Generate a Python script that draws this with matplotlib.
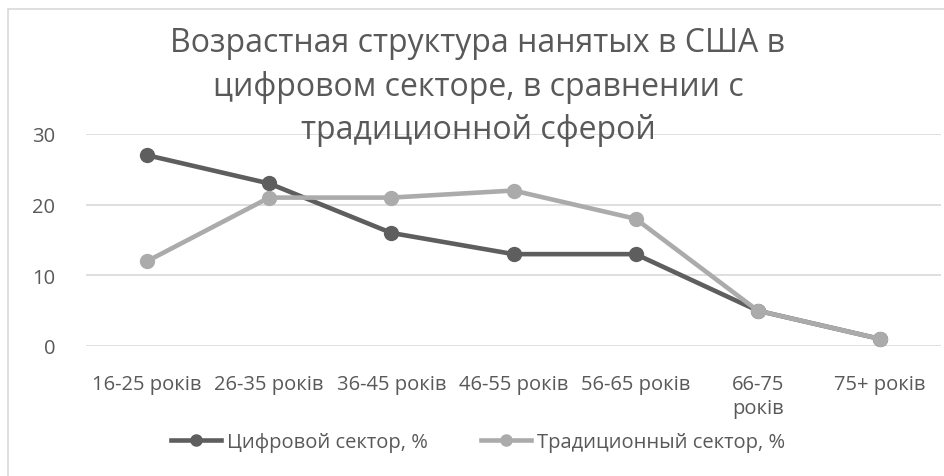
import matplotlib
matplotlib.use("Agg")
import matplotlib.pyplot as plt
from matplotlib.patches import Rectangle

categories = ["16-25 років", "26-35 років", "36-45 років", "46-55 років",
              "56-65 років", "66-75\nроків", "75+ років"]
digital = [27, 23, 16, 13, 13, 5, 1]
traditional = [12, 21, 21, 22, 18, 5, 1]
yticks = [0, 10, 20, 30]

title = "Возрастная структура нанятых в США в\nцифровом секторе, в сравнении с\nтрадиционной сферой"

plt.rcParams['font.family'] = ['Open Sans', 'DejaVu Sans']
text_color = '#595959'

fig = plt.figure(figsize=(9.45, 4.77), dpi=100)
ax = fig.add_axes([86 / 945, 1 - 347 / 477, (941 - 86) / 945, (347 - 135) / 477])

# chart frame (cut off at right and bottom in the reference)
fig.patches.append(Rectangle((8 / 945, -0.1), 1.2, 1 - 10 / 477 + 0.1,
                             transform=fig.transFigure, fill=False,
                             edgecolor='#d9d9d9', linewidth=1.2))

x = list(range(len(categories)))
ax.plot(x, digital, color='#5e5e5e', linewidth=3.3, marker='o', markersize=10,
        label='Цифровой сектор, %', zorder=3)
ax.plot(x, traditional, color='#ababab', linewidth=3.3, marker='o', markersize=10,
        label='Традиционный сектор, %', zorder=3)

ax.set_xlim(-0.5, len(categories) - 0.5)
ax.set_ylim(0, 30)
ax.set_yticks(yticks)
ax.set_xticks(x)
ax.set_xticklabels(categories, linespacing=1.25)
ax.grid(axis='y', color='#d9d9d9', linewidth=1.2, zorder=0)
for s in ax.spines.values():
    s.set_visible(False)
ax.tick_params(axis='both', length=0, colors=text_color, labelsize=14.5)
ax.tick_params(axis='y', pad=22)
ax.tick_params(axis='x', pad=20)
for line in ax.lines:
    line.set_clip_on(False)

fig.text(478 / 945, 1 - 27 / 477, title, ha='center', va='top', fontsize=23,
         color=text_color, linespacing=1.42)

leg = fig.legend(loc='center', bbox_to_anchor=(478 / 945, 1 - 443 / 477), ncol=2,
                 frameon=False, fontsize=14.5, handlelength=2.5, columnspacing=2.6,
                 handletextpad=0.3, markerscale=0.8)
for t in leg.get_texts():
    t.set_color(text_color)

fig.savefig("out.png", dpi=100)
